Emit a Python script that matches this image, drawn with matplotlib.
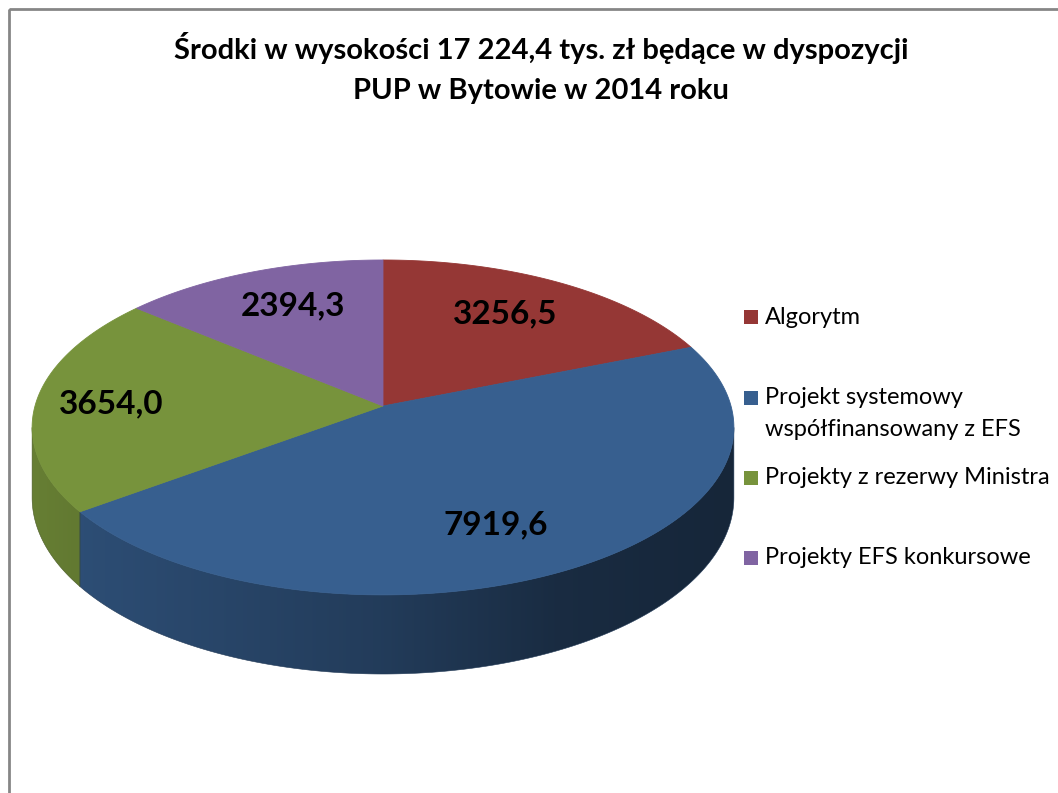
import numpy as np
import matplotlib
matplotlib.use("Agg")
import matplotlib.pyplot as plt
from matplotlib.patches import Polygon, Rectangle
import matplotlib.colors as mcolors

# ---------------- data ----------------
categories = ["Algorytm",
              "Projekt systemowy\nwspółfinansowany z EFS",
              "Projekty z rezerwy Ministra",
              "Projekty EFS konkursowe"]
values = [3256.5, 7919.6, 3654.0, 2394.3]
value_labels = ["3256,5", "7919,6", "3654,0", "2394,3"]
slice_colors = ["#953735", "#375F8F", "#77933C", "#8064A2"]
title_text = "Środki w wysokości 17 224,4 tys. zł będące w dyspozycji\nPUP w Bytowie w 2014 roku"

# ---------------- layout ----------------
W, H = 1058, 793
label_pos = [(505, 314), (496, 525), (111, 404), (293, 306)]
legend_line_y = [[317], [398, 430], [478], [558]]

FONT = ["Lato", "DejaVu Sans"]

fig = plt.figure(figsize=(W / 100, H / 100), dpi=100)
ax = fig.add_axes([0, 0, 1, 1])
ax.set_xlim(0, W)
ax.set_ylim(H, 0)
ax.axis("off")

# chart border (extends beyond the image at right and bottom)
ax.add_patch(Rectangle((9, 9), W + 50, H + 50, fill=False,
                       edgecolor="#868686", lw=2, clip_on=True))

# ---------------- 3D pie geometry (perspective) ----------------
cx, cy = 383.0, 406.0
A, B, K = 348.0, 164.7, 0.128
thick = 69.0


def proj(theta_deg, r=1.0):
    t = np.radians(theta_deg)
    u = r * np.sin(t)
    v = r * np.cos(t)
    d = 1 + K * v
    return cx + A * u / d, cy - B * v / d


def drop(theta_deg):
    v = np.cos(np.radians(theta_deg))
    return thick / (1 + K * v)


total = sum(values)
bounds = np.concatenate([[0], np.cumsum(values) / total * 360.0])

vis_lo = np.degrees(np.arccos(-K))
vis_hi = 360.0 - vis_lo

# shading profile of the side wall (left lit, right dark)
shade_u = [-1.0, -0.8, 0.0, 0.5, 1.0]
shade_f = [0.86, 0.80, 0.63, 0.46, 0.40]

xcols = np.linspace(0, W, 600)
ucols = (xcols - cx) / A
fcols = np.interp(ucols, shade_u, shade_f)

for i, col in enumerate(slice_colors):
    a0, a1 = max(bounds[i], vis_lo), min(bounds[i + 1], vis_hi)
    if a1 <= a0:
        continue
    th = np.linspace(a0, a1, 300)
    xs, ys = proj(th)
    ds = drop(th)
    pts = list(zip(xs, ys)) + list(zip(xs[::-1], (ys + ds)[::-1]))
    poly = Polygon(pts, closed=True, facecolor="none", edgecolor="none")
    ax.add_patch(poly)
    base = np.array(mcolors.to_rgb(col))
    img = np.clip(fcols[None, :, None] * base[None, None, :], 0, 1)
    img = np.repeat(img, 2, axis=0)
    im = ax.imshow(img, extent=[0, W, H, 0], aspect="auto",
                   interpolation="bilinear", zorder=1)
    im.set_clip_path(poly)
    # soft edge
    ax.add_patch(Polygon(pts, closed=True, facecolor="none",
                         edgecolor=np.clip(base * 0.6, 0, 1), lw=0.4,
                         zorder=1.1))

# top faces
for i, col in enumerate(slice_colors):
    th = np.linspace(bounds[i], bounds[i + 1], 200)
    xs, ys = proj(th)
    pts = [(cx, cy)] + list(zip(xs, ys))
    ax.add_patch(Polygon(pts, closed=True, facecolor=col, edgecolor=col,
                         lw=0.6, zorder=2))

ax.set_xlim(0, W)
ax.set_ylim(H, 0)

# data labels
for (lx, ly), txt in zip(label_pos, value_labels):
    ax.text(lx, ly, txt, ha="center", va="center", fontsize=24,
            fontweight="bold", family=FONT, color="black", zorder=5)

# title
title_lines = title_text.split("\n")
for j, line in enumerate(title_lines):
    ax.text(541, 48 + j * 43, line, ha="center", va="center", fontsize=21,
            fontweight="bold", family=FONT, color="black", zorder=5)

# legend
for cat, col, ys in zip(categories, slice_colors, legend_line_y):
    ax.add_patch(Rectangle((744, ys[0] - 7), 14, 14, facecolor=col,
                           edgecolor="none", zorder=5))
    for line, yy in zip(cat.split("\n"), ys):
        ax.text(765, yy, line, ha="left", va="center", fontsize=17,
                family=FONT, color="black", zorder=5)

fig.savefig("out.png", dpi=100)
